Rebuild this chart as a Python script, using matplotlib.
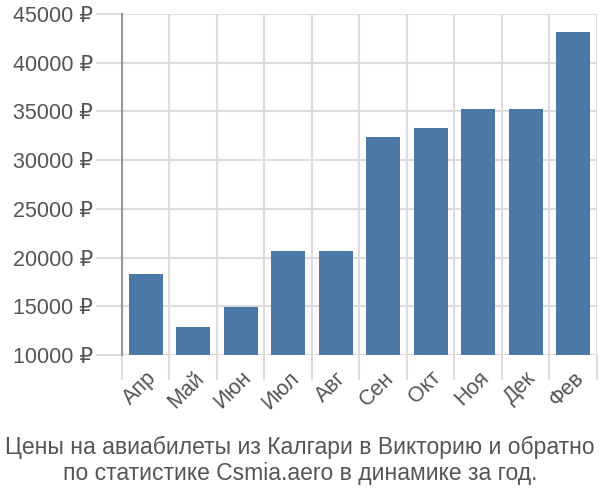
import matplotlib
matplotlib.use("Agg")
import matplotlib.pyplot as plt
import numpy as np

plt.rcParams['font.family'] = ['Liberation Sans', 'DejaVu Sans']

months = ["Апр", "Май", "Июн", "Июл", "Авг", "Сен", "Окт", "Ноя", "Дек", "Фев"]
prices = [18300, 12900, 14900, 20700, 20700, 32400, 33300, 35200, 35200, 43200]
yticks = [10000, 15000, 20000, 25000, 30000, 35000, 40000, 45000]
title = "Цены на авиабилеты из Калгари в Викторию и обратно\nпо статистике Csmia.aero в динамике за год."

fig = plt.figure(figsize=(6, 5), dpi=100)
ax = fig.add_axes([0.2033, 0.29, 0.7917, 0.682])

x = np.arange(len(months))
base = 10000
ax.bar(x, [p - base for p in prices], bottom=base, width=0.72, color="#4c78a8", zorder=3)

ax.set_xlim(-0.5, len(months) - 0.5)
ax.set_ylim(10000, 45000)

# вертикальная сетка на границах категорий
ax.set_xticks(x)
ax.set_xticklabels(months, rotation=45, ha="right", va="top", rotation_mode="anchor",
                   fontsize=15.5, color="#555555")
ax.set_xticks(np.arange(len(months) + 1) - 0.5, minor=True)
ax.tick_params(axis="x", which="major", length=0, pad=9)
ax.tick_params(axis="x", which="minor", length=18, color="#dddddd", width=1.5)
ax.grid(axis="x", which="minor", color="#dddddd", linewidth=1.5, zorder=0)

ax.set_yticks(yticks)
ax.set_yticklabels([f"{v} ₽" for v in yticks], fontsize=15.5, color="#555555")
ax.tick_params(axis="y", length=19, color="#dddddd", width=1.5, pad=2)
ax.grid(axis="y", color="#dddddd", linewidth=1.5, zorder=0)

for s in ["top", "right", "bottom"]:
    ax.spines[s].set_visible(False)
ax.spines["left"].set_color("#999999")
ax.spines["left"].set_linewidth(1.5)
ax.spines["left"].set_bounds(10000, 45000)

fig.text(0.5, 0.079, title, ha="center", va="center", fontsize=16.5, color="#555555",
         linespacing=1.2)

fig.savefig("out.png", dpi=100)
